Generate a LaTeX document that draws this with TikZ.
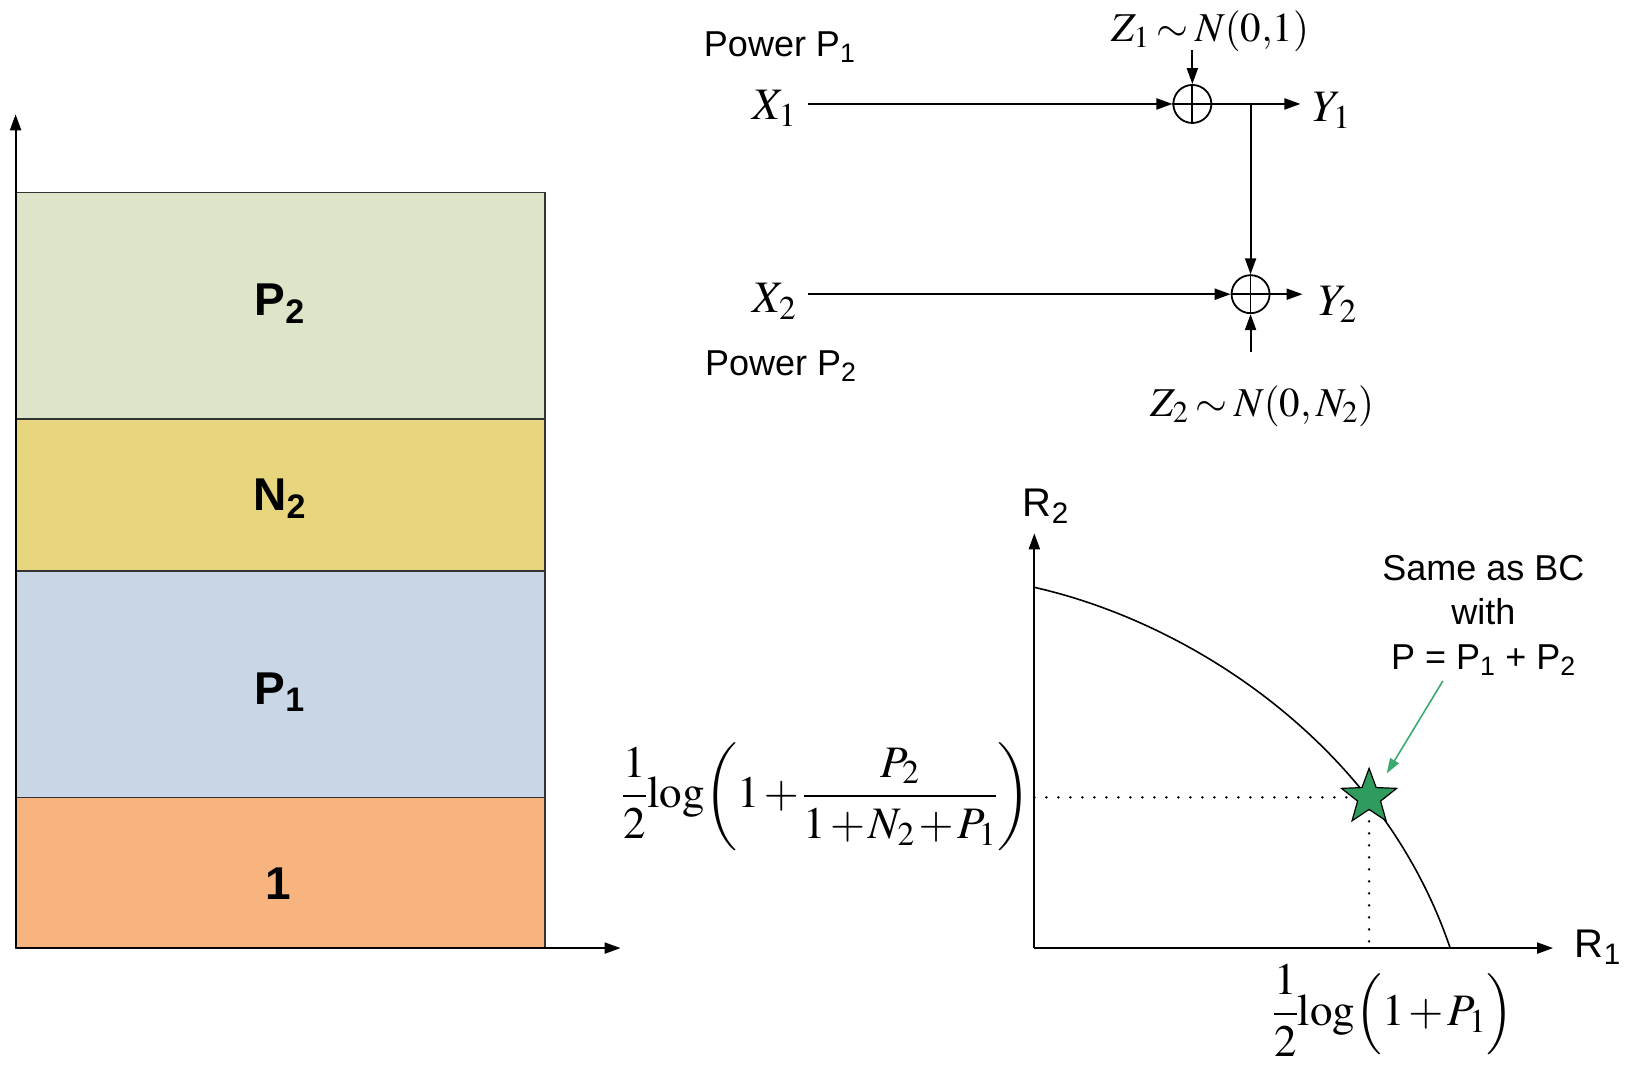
\documentclass[tikz,border=0pt]{standalone}
\usepackage{mathptmx}
\usepackage[no-math]{fontspec}
\newfontfamily\arial{Liberation Sans}
\usetikzlibrary{arrows.meta,shapes.geometric}
\definecolor{cPtwo}{RGB}{220,229,199}
\definecolor{cNtwo}{RGB}{232,214,126}
\definecolor{cPone}{RGB}{201,214,230}
\definecolor{cOne}{RGB}{247,180,126}
\definecolor{starg}{RGB}{47,155,92}
\definecolor{garrow}{RGB}{60,170,110}
\newcommand\tightsp{\thickmuskip=3mu\relax\medmuskip=1.5mu\relax}
\begin{document}
\begin{tikzpicture}[x=1.0395pt,y=-1.0395pt,
  sans/.style={font=\arial\fontsize{36}{44.5}\selectfont, inner sep=0pt},
  bigbold/.style={font=\arial\bfseries\fontsize{46}{55}\selectfont, inner sep=0pt},
  mth/.style={font=\fontsize{45}{54}\selectfont, inner sep=0pt},
  mths/.style={font=\fontsize{41}{49}\selectfont, inner sep=0pt},
  arr/.style={-{Triangle[length=16pt,width=11pt]}, line width=2pt},
  band/.style={draw=black!80, line width=1.6pt},
  adder/.style={circle, draw, line width=1.8pt, minimum size=38pt, inner sep=0pt},
  dots/.style={line width=2.8pt, line cap=round, dash pattern=on 0pt off 12pt}]
\useasboundingbox (0,0) rectangle (1568,1024);
% ---------- left stacked bars ----------
\filldraw[band, fill=cPtwo] (15,185) rectangle (524,403);
\filldraw[band, fill=cNtwo] (15,403) rectangle (524,549);
\filldraw[band, fill=cPone] (15,549) rectangle (524,767);
\filldraw[band, fill=cOne]  (15,767) rectangle (524,912);
\node[bigbold] (lP2) at (269,292) {P\textsubscript{2}};
\node[bigbold] (lN2) at (269,480) {N\textsubscript{2}};
\node[bigbold] (lP1) at (269,666) {P\textsubscript{1}};
\node[bigbold] (l1)  at (268,850) {1};
\coordinate (LO) at (15,912);
\coordinate (LY) at (15,110);
\coordinate (LX) at (597,912);
\draw[arr] (LO) -- (LY);
\draw[arr] (LO) -- (LX);
% ---------- channel ----------
\node[sans] (pw1) at (750,45) {Power P\textsubscript{1}};
\node[sans] (pw2) at (751,352) {Power P\textsubscript{2}};
\node[mth] (X1) at (745,104) {$X_1$};
\node[mth] (X2) at (745,290) {$X_2$};
\node[mth] (Y1) at (1281,106) {$Y_1$};
\node[mth] (Y2) at (1287,293) {$Y_2$};
\node[mths] (Z1) at (1164,30) {$\tightsp Z_1\sim N(0{,}1)$};
\node[mths] (Z2) at (1214,391) {$\tightsp Z_2\sim N(0,N_2)$};
\node[adder] (s1) at (1147,100) {};
\node[adder] (s2) at (1203,283) {};
\draw[line width=1.8pt] (s1.north) -- (s1.south) (s1.west) -- (s1.east);
\draw[line width=1.8pt] (s2.north) -- (s2.south) (s2.west) -- (s2.east);
\coordinate (x1s) at (777,100);
\coordinate (x2s) at (777,283);
\coordinate (y1e) at (1251,100);
\coordinate (y2e) at (1253,283);
\coordinate (z1s) at (1147,48);
\coordinate (z2s) at (1203,339);
\coordinate (br) at (1203,100);
\draw[arr] (x1s) -- (s1.west);
\draw[arr] (x2s) -- (s2.west);
\draw[arr] (s1.east) -- (y1e);
\draw[arr] (s2.east) -- (y2e);
\draw[arr] (z1s) -- (s1.north);
\draw[arr] (z2s) -- (s2.south);
\draw[arr] (br) -- (s2.north);
% ---------- rate region ----------
\coordinate (O) at (995,912);
\coordinate (R2e) at (995,513);
\coordinate (R1e) at (1494,912);
\draw[arr] (O) -- (R2e);
\draw[arr] (O) -- (R1e);
\node[sans, font=\arial\fontsize{40}{48}\selectfont] (R2) at (1006,487) {R\textsubscript{2}};
\node[sans, font=\arial\fontsize{40}{48}\selectfont] (R1) at (1537,911) {R\textsubscript{1}};
\coordinate (cs) at (995,565);
\coordinate (ce) at (1395,912);
\draw[line width=1.6pt] (cs) .. controls (1150,600) and (1330,720) .. (ce);
\coordinate (sp) at (1317,767);
\coordinate (ya) at (995,767);
\coordinate (xa) at (1317,912);
\draw[dots] (ya) -- (sp);
\draw[dots] (sp) -- (xa);
\node[star, star points=5, star point ratio=2.4, minimum size=58pt, inner sep=0pt,
      fill=starg, draw=black, line width=1.2pt] (st) at (sp) {};
\node[sans, align=center] (bc) at (1427,592) {Same as BC\\with\\P = P\textsubscript{1} + P\textsubscript{2}};
\coordinate (ga) at (1388,655);
\coordinate (gb) at (1334,744);
\draw[garrow, line width=1.6pt, -{Triangle[length=15pt,width=10pt]}] (ga) -- (gb);
\node[mth] (lab2) at (795,766) {$\tightsp\displaystyle \frac{1}{2}\!\log\!\left(1+\frac{P_2}{1+N_2+P_1}\right)$};
\node[mth] (lab1) at (1340,972) {$\tightsp\displaystyle \frac{1}{2}\!\log\Bigl(1+P_1\Bigr)$};
\end{tikzpicture}
\end{document}
